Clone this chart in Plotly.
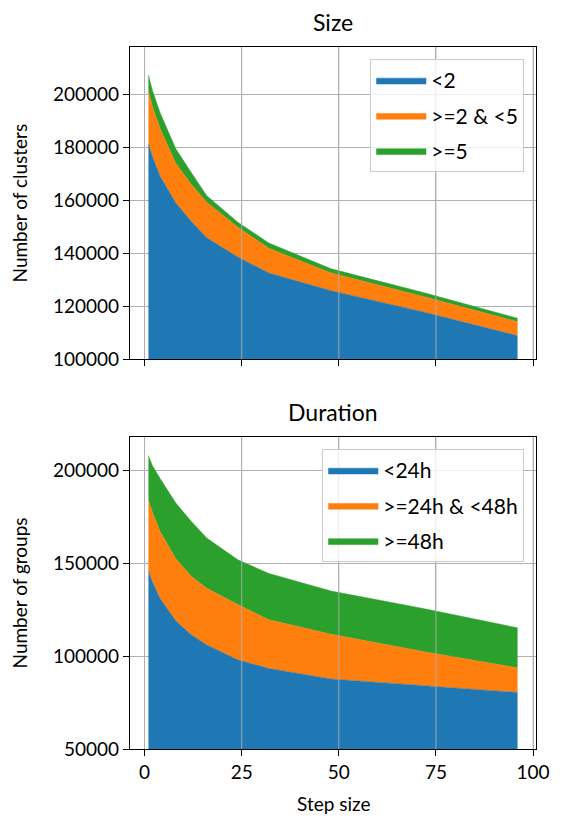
import plotly.graph_objects as go

steps = [1, 2, 4, 8, 12, 16, 24, 32, 48, 72, 96]

# Size panel (cumulative tops, converted to per-series values)
size_lt2 = [181200, 176500, 169000, 159000, 152000, 145800, 138500, 132500, 125800, 117700, 108800]
size_top_mid = [201200, 195500, 187000, 174000, 166000, 159200, 149800, 141800, 132500, 123500, 114100]
size_top_all = [207300, 201500, 193000, 179500, 170500, 161700, 151700, 143800, 134100, 125000, 115400]
size_2to5 = [m - a for m, a in zip(size_top_mid, size_lt2)]
size_ge5 = [t - m for t, m in zip(size_top_all, size_top_mid)]

# Duration panel
dur_lt24 = [145500, 140000, 131000, 119000, 111500, 106000, 98000, 93300, 87700, 84100, 80400]
dur_top_mid = [184000, 177500, 167000, 152500, 143000, 136500, 127700, 119500, 111800, 102300, 93700]
dur_top_all = [207900, 202500, 195500, 182500, 172500, 163500, 151800, 144500, 135000, 125500, 115200]
dur_24to48 = [m - a for m, a in zip(dur_top_mid, dur_lt24)]
dur_ge48 = [t - m for t, m in zip(dur_top_all, dur_top_mid)]

size_names = ["<2", ">=2 & <5", ">=5"]
dur_names = ["<24h", ">=24h & <48h", ">=48h"]
colors = ["#1f77b4", "#ff7f0e", "#2ca02c"]
x_ticks = [0, 25, 50, 75, 100]

FONT = "Lato, DejaVu Sans, sans-serif"

L, R, T, B = 130, 545, 47, 749
W = R - L
H = B - T

fig = go.Figure()
for i, (name, vals, c) in enumerate(zip(size_names, [size_lt2, size_2to5, size_ge5], colors)):
    fig.add_trace(go.Scatter(x=steps, y=vals, name=name, stackgroup="size",
                             mode="lines", line=dict(color=c, width=0.5),
                             fillcolor=c, xaxis="x", yaxis="y", legend="legend",
                             legendgroup=f"s{i}"))
for i, (name, vals, c) in enumerate(zip(dur_names, [dur_lt24, dur_24to48, dur_ge48], colors)):
    fig.add_trace(go.Scatter(x=steps, y=vals, name=name, stackgroup="dur",
                             mode="lines", line=dict(color=c, width=0.5),
                             fillcolor=c, xaxis="x2", yaxis="y2", legend="legend2",
                             legendgroup=f"d{i}"))

# vertical grid lines show through the filled areas in the original
shapes = []
for xr, yr in (("x", "y domain"), ("x2", "y2 domain")):
    for xv in x_ticks:
        shapes.append(dict(type="line", xref=xr, yref=yr, x0=xv, x1=xv, y0=0, y1=1,
                           line=dict(color="rgba(176,176,176,0.85)", width=1), layer="above"))

axis_common = dict(showline=True, linecolor="black", linewidth=1.2, mirror=True,
                   ticks="outside", ticklen=6, tickwidth=1.2, tickcolor="black",
                   showgrid=True, gridcolor="#b0b0b0", gridwidth=1,
                   zeroline=False, tickfont=dict(size=19, color="black", family=FONT))

top_dom = [(B - 359) / H, 1.0]
bot_dom = [0.0, (B - 437) / H]

legend_common = dict(xanchor="right", yanchor="top", traceorder="grouped",
                     bgcolor="rgba(255,255,255,0.8)", bordercolor="#cccccc", borderwidth=1,
                     font=dict(size=21, family=FONT), itemwidth=50, tracegroupgap=5)

fig.update_layout(
    width=562, height=820,
    margin=dict(l=L, r=562 - R, t=T, b=820 - B),
    paper_bgcolor="white", plot_bgcolor="white",
    font=dict(family=FONT, size=19, color="black"),
    xaxis=dict(domain=[0, 1], anchor="y", range=[-3.75, 100.75],
               tickvals=x_ticks, showticklabels=False, **axis_common),
    yaxis=dict(domain=top_dom, anchor="x", range=[100000, 217875],
               tickvals=[100000, 120000, 140000, 160000, 180000, 200000],
               tickformat="d", **axis_common),
    xaxis2=dict(domain=[0, 1], anchor="y2", range=[-3.75, 100.75],
                tickvals=x_ticks, **axis_common),
    yaxis2=dict(domain=bot_dom, anchor="x2", range=[50000, 217900],
                tickvals=[50000, 100000, 150000, 200000],
                tickformat="d", **axis_common),
    legend=dict(x=(533 - L) / W, y=(B - 59) / H, **legend_common),
    legend2=dict(x=(533 - L) / W, y=(B - 449) / H, **legend_common),
    shapes=shapes,
    annotations=[
        dict(text="Size", x=0.5, y=(B - 22) / H, xref="paper", yref="paper",
             showarrow=False, font=dict(size=23), xanchor="center", yanchor="middle"),
        dict(text="Duration", x=0.5, y=(B - 412) / H, xref="paper", yref="paper",
             showarrow=False, font=dict(size=23), xanchor="center", yanchor="middle"),
        dict(text="Number of clusters", x=(17 - L) / W, y=(B - 203) / H,
             xref="paper", yref="paper", showarrow=False, textangle=-90,
             font=dict(size=19), xanchor="center", yanchor="middle"),
        dict(text="Number of groups", x=(17 - L) / W, y=(B - 593) / H,
             xref="paper", yref="paper", showarrow=False, textangle=-90,
             font=dict(size=19), xanchor="center", yanchor="middle"),
        dict(text="Step size", x=0.5, y=(B - 803) / H, xref="paper", yref="paper",
             showarrow=False, font=dict(size=19), xanchor="center", yanchor="middle"),
    ],
)

fig.write_html("out.html")
